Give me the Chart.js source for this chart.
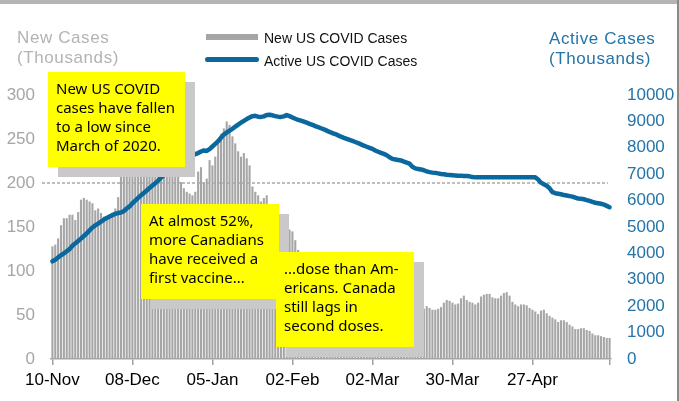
<!DOCTYPE html>
<html lang="en">
<head>
<meta charset="UTF-8">
<title>New vs Active US COVID Cases</title>
<script src="https://cdn.jsdelivr.net/npm/chart.js"></script>
<style>
    body { margin: 0; background: #fff; }
    #wrap { position: relative; width: 679px; height: 401px; overflow: hidden; font-family: "Liberation Sans", Arial, sans-serif; }
    #chart { position: absolute; left: 0; top: 0; }
    .topband { position: absolute; left: 0; top: 0; width: 679px; height: 4px; background: #b4b4b4; }
    .rightband { position: absolute; right: 0; top: 0; width: 2px; height: 401px; background: #8a8a8a; }
    .title { position: absolute; font-size: 17px; line-height: 20px; letter-spacing: 0.6px; white-space: nowrap; }
    .legend-text { position: absolute; left: 264px; font-size: 14px; line-height: 16px; color: #111; white-space: nowrap; }
    .swatch { position: absolute; }
    .note { position: absolute; box-sizing: border-box; background: #ffff00; box-shadow: 10px 10px 0 #c9c9c9;
            font-family: "Comic Sans MS", "Noto Sans", sans-serif; font-size: 15px; line-height: 19px;
            padding: 7px 0 0 8px; color: #000; white-space: nowrap; }
</style>
</head>
<body>
<div id="wrap">
    <canvas id="chart" width="679" height="401"></canvas>
    <div class="topband"></div>
    <div class="rightband"></div>

    <div class="title" style="left:17px; top:28px; color:#b3b3b3;">New Cases<br>(Thousands)</div>
    <div class="title" style="left:549px; top:29px; color:#2474a8;">Active Cases<br>(Thousands)</div>

    <div class="swatch" style="left:206px; top:34px; width:52px; height:6px; background:#a6a6a6;"></div>
    <div class="legend-text" style="top:30px;">New US COVID Cases</div>
    <div class="swatch" style="left:205px; top:57px; width:54px; height:5px; border-radius:3px; background:#0b689f;"></div>
    <div class="legend-text" style="top:53px;">Active US COVID Cases</div>

    <div class="note" style="left:48px; top:72px; width:137px; height:95px;">New US COVID<br>cases have fallen<br>to a low since<br>March of 2020.</div>
    <div class="note" style="left:141px; top:204px; width:138px; height:95px;">At almost 52%,<br>more Canadians<br>have received a<br>first vaccine...</div>
    <div class="note" style="left:276px; top:252px; width:138px; height:95px;">...dose than Am-<br>ericans. Canada<br>still lags in<br>second doses.</div>
</div>

<script>
    // daily values, 10-Nov-2020 .. 24-May-2021
    const startDate = new Date(2020, 10, 10);
    const tickLabels = ['10-Nov', '08-Dec', '05-Jan', '02-Feb', '02-Mar', '30-Mar', '27-Apr'];
    const refLevel = 200;

    // new cases, thousands (left axis)
    const newCases = [
        128, 130, 137, 152, 160, 160, 164, 164, 158, 167,
        181, 183, 181, 179, 177, 169, 171, 166, 162, 162,
        162, 166, 171, 184, 208, 212, 215, 218, 220, 222,
        225, 228, 230, 232, 235, 238, 240, 245, 248, 246,
        242, 240, 235, 226, 215, 201, 194, 190, 188, 186,
        190, 213, 218, 201, 205, 226, 220, 230, 245, 256,
        262, 270, 266, 253, 245, 236, 230, 234, 228, 220,
        196, 190, 186, 179, 183, 186, 170, 165, 160, 156,
        152, 150, 148, 147, 145, 135, 124, 120, 115, 110,
        106, 102, 98, 95, 92, 88, 85, 82, 78, 74,
        70, 70, 69, 67, 66, 66, 67, 68, 67, 66,
        66, 65, 63, 62, 61, 60, 59, 58, 57, 56,
        56, 55, 55, 54, 54, 54, 54, 55, 55, 56,
        57, 60, 58, 56, 56, 57, 59, 64, 67, 66,
        64, 62, 63, 69, 72, 67, 65, 64, 62, 64,
        71, 73, 74, 74, 70, 69, 69, 72, 75, 76,
        72, 65, 62, 60, 62, 62, 61, 58, 56, 54,
        51, 55, 56, 52, 49, 47, 45, 42, 44, 44,
        42, 39, 37, 34, 34, 35, 35, 33, 32, 29,
        27, 27, 26, 25, 24, 24
    ];

    // active cases, thousands (right axis)
    const activeCases = [
        3700, 3760, 3850, 3930, 4000, 4080, 4160, 4290, 4380, 4470,
        4560, 4660, 4760, 4870, 4980, 5060, 5130, 5200, 5280, 5340,
        5400, 5450, 5500, 5530, 5550, 5600, 5700, 5780, 5900, 6000,
        6100, 6200, 6290, 6380, 6480, 6570, 6660, 6760, 6870, 6960,
        7060, 7140, 7220, 7310, 7400, 7480, 7540, 7610, 7660, 7700,
        7760, 7800, 7860, 7900, 7880, 7950, 8050, 8150, 8250, 8380,
        8500, 8580, 8650, 8720, 8800, 8880, 8950, 9020, 9090, 9150,
        9200, 9210, 9180, 9170, 9190, 9240, 9250, 9230, 9200, 9180,
        9170, 9190, 9240, 9200, 9150, 9100, 9060, 9030, 8990, 8950,
        8910, 8870, 8820, 8780, 8740, 8700, 8650, 8600, 8560, 8520,
        8470, 8420, 8380, 8340, 8300, 8260, 8220, 8180, 8130, 8080,
        8040, 8000, 7960, 7900, 7850, 7810, 7770, 7720, 7640, 7580,
        7560, 7540, 7520, 7480, 7440, 7400, 7280, 7220, 7200, 7180,
        7150, 7110, 7080, 7060, 7050, 7030, 7010, 7000, 6980, 6970,
        6960, 6950, 6940, 6940, 6930, 6930, 6920, 6890, 6880, 6880,
        6880, 6880, 6880, 6880, 6880, 6880, 6880, 6880, 6880, 6880,
        6880, 6880, 6880, 6880, 6880, 6880, 6880, 6880, 6880, 6880,
        6800, 6680, 6620, 6560, 6470, 6320, 6280, 6260, 6240, 6210,
        6190, 6170, 6150, 6110, 6080, 6070, 6050, 6020, 5990, 5950,
        5920, 5900, 5880, 5850, 5800, 5750
    ];

    const months = ['Jan', 'Feb', 'Mar', 'Apr', 'May', 'Jun', 'Jul', 'Aug', 'Sep', 'Oct', 'Nov', 'Dec'];
    const dayLabels = newCases.map((_, i) => {
        const d = new Date(startDate.getFullYear(), startDate.getMonth(), startDate.getDate() + i);
        return String(d.getDate()).padStart(2, '0') + '-' + months[d.getMonth()];
    });
    const isTick = i => tickLabels.includes(dayLabels[i]) || i === dayLabels.length - 1;

    // dotted 200k line, drawn between the bars and the active-cases line
    const refLinePlugin = {
        id: 'refLine',
        afterDatasetDraw(chart, args) {
            if (args.index !== 1) return;
            const ctx = chart.ctx;
            const y = chart.scales.y.getPixelForValue(refLevel);
            ctx.save();
            ctx.strokeStyle = '#a9a9a9';
            ctx.lineWidth = 1.6;
            ctx.setLineDash([3, 2]);
            ctx.beginPath();
            ctx.moveTo(42, y);
            ctx.lineTo(chart.chartArea.right - 3, y);
            ctx.stroke();
            ctx.restore();
        }
    };

    const axisFont = { family: 'Liberation Sans, Arial, sans-serif', size: 17 };

    new Chart(document.getElementById('chart').getContext('2d'), {
        type: 'bar',
        data: {
            labels: dayLabels,
            datasets: [
                {
                    type: 'line', label: 'Active US COVID Cases', data: activeCases, yAxisID: 'y1', order: 0,
                    borderColor: '#0b689f', borderWidth: 4.5, pointRadius: 0, tension: 0,
                    borderJoinStyle: 'round', borderCapStyle: 'round', fill: false
                },
                {
                    label: 'New US COVID Cases', data: newCases, yAxisID: 'y', order: 1,
                    backgroundColor: '#a6a6a6', barPercentage: 0.74, categoryPercentage: 1.0
                }
            ]
        },
        options: {
            responsive: false,
            animation: false,
            layout: { padding: { top: 95, left: 0, right: 0, bottom: 0 } },
            plugins: { legend: { display: false }, tooltip: { enabled: false } },
            scales: {
                x: {
                    grid: {
                        display: true, drawOnChartArea: false, drawTicks: true, tickLength: 6, offset: false,
                        color: ctx => isTick(ctx.index) ? '#a0a0a0' : 'rgba(0,0,0,0)', lineWidth: 1.5
                    },
                    border: { display: true, color: '#a6a6a6', width: 1.5 },
                    ticks: {
                        autoSkip: false, maxRotation: 0, minRotation: 0, padding: 5,
                        color: '#000', font: axisFont,
                        callback(val, i) { return tickLabels.includes(dayLabels[i]) ? dayLabels[i] : ''; }
                    },
                    afterFit(scale) { scale.height = 42; }
                },
                y: {
                    position: 'left', min: 0, max: 300,
                    grid: { display: false, drawTicks: false }, border: { display: false },
                    ticks: { stepSize: 50, padding: 16, color: '#a6a6a6', font: axisFont },
                    afterFit(scale) { scale.width = 51; }
                },
                y1: {
                    position: 'right', min: 0, max: 10000,
                    grid: { display: false, drawTicks: false }, border: { display: false },
                    ticks: { stepSize: 1000, padding: 16, color: '#2474a8', font: axisFont,
                             callback: v => String(v) },
                    afterFit(scale) { scale.width = 68; }
                }
            }
        },
        plugins: [refLinePlugin]
    });
</script>
</body>
</html>
